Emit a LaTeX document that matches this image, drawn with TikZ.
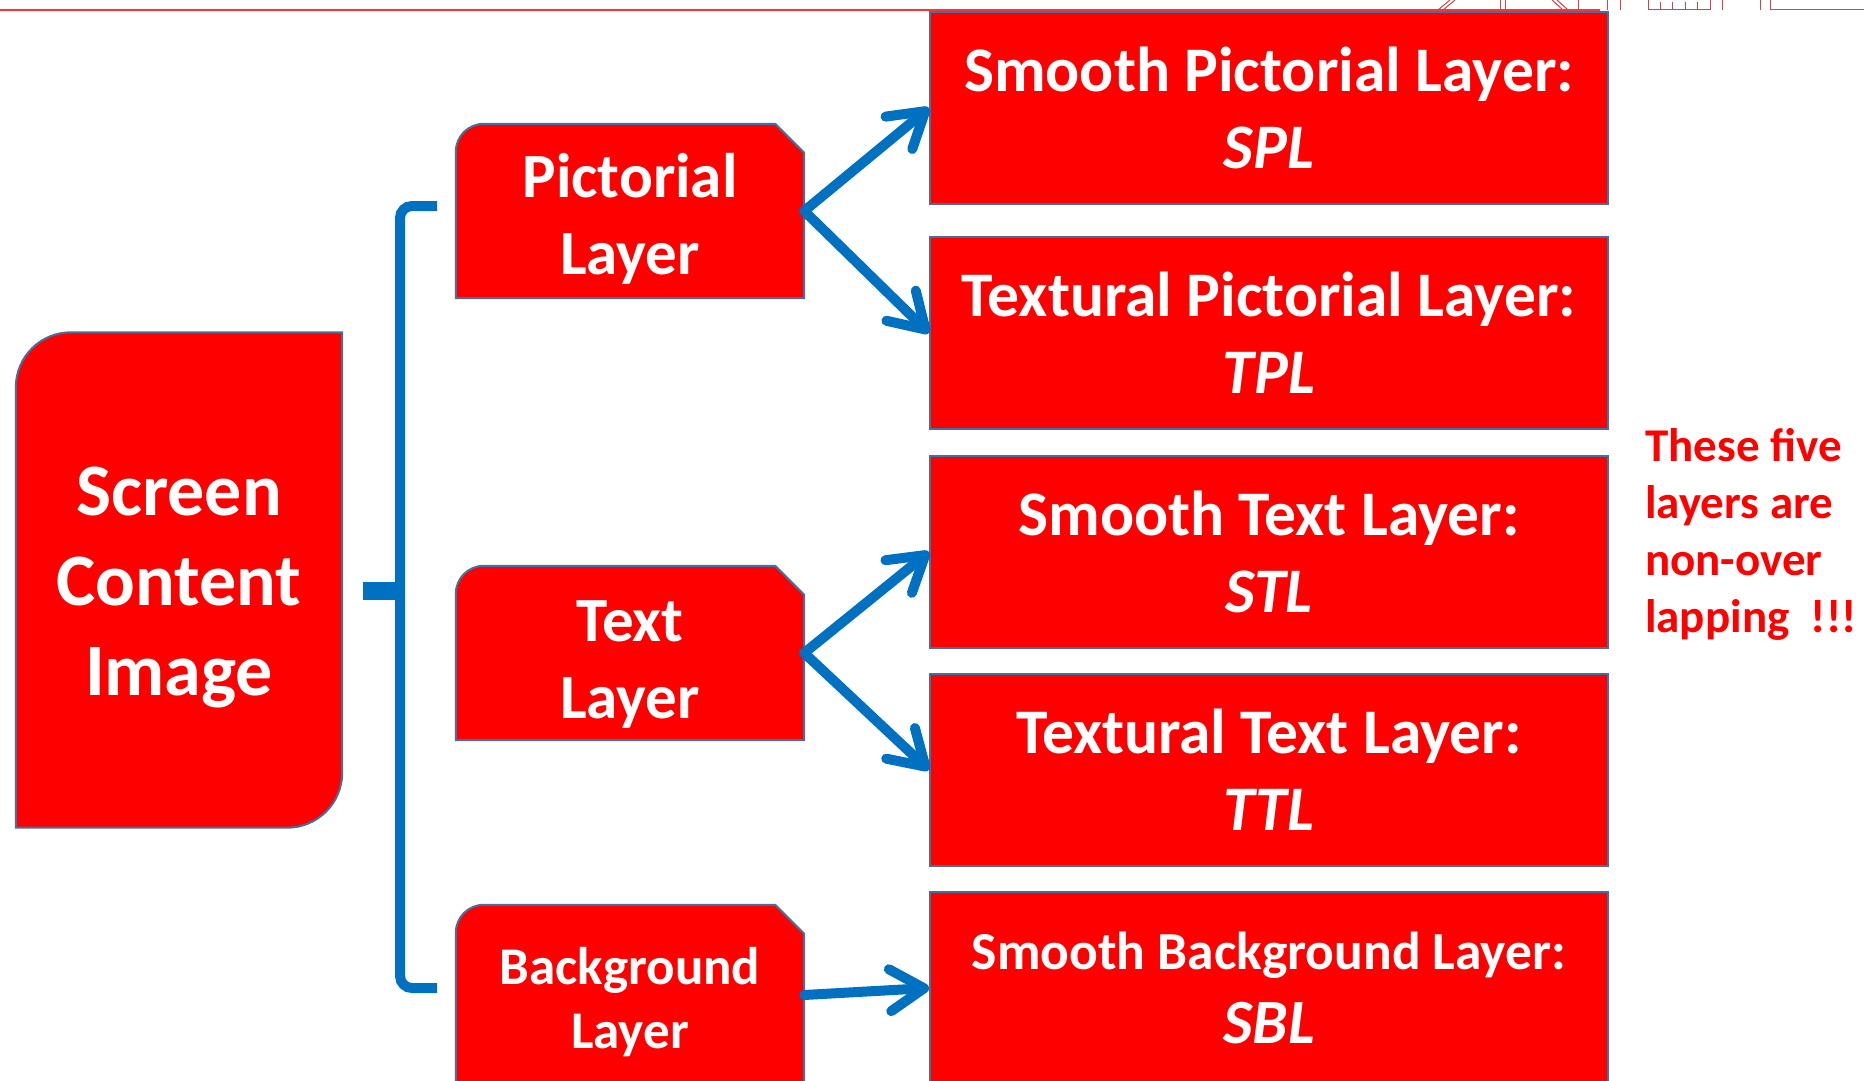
\documentclass[tikz,border=0pt]{standalone}
\usepackage{fontspec}
\setmainfont{Carlito}
\usetikzlibrary{arrows.meta,backgrounds,positioning}

\definecolor{slidered}{HTML}{FF0000}
\definecolor{edgeblue}{HTML}{41719C}
\definecolor{flowblue}{HTML}{0070C0}
\definecolor{logored}{HTML}{D9404A}

\tikzset{
    layer/.style={minimum width=348pt, minimum height=174pt, inner sep=0pt,
        text=white, align=center, font=\bfseries\fontsize{63}{77}\selectfont},
    sublayer/.style={draw=edgeblue, line width=2pt, fill=slidered,
        minimum width=678pt, minimum height=192pt, inner sep=0pt,
        text=white, align=center, font=\bfseries\fontsize{63.5}{77}\selectfont},
    shapeline/.style={draw=edgeblue, line width=2pt, fill=slidered},
    flow/.style={flowblue, line width=10pt, line cap=round,
        -{Straight Barb[length=34pt, width=42pt, round]}},
    brace/.style={flowblue, line width=10pt},
    note/.style={text=slidered, align=left, inner sep=0pt,
        font=\bfseries\fontsize{47}{57}\selectfont},
    logo/.style={logored, line width=1pt}
}

% box with a rounded top left corner and a cut top right corner
\newcommand{\snipbox}[1]{%
    \path[shapeline] (#1.south west) -- ([yshift=-28pt]#1.north west)
        .. controls ([yshift=-12.5pt]#1.north west) and ([xshift=12.5pt]#1.north west) ..
        ([xshift=28pt]#1.north west) -- ([xshift=-29pt]#1.north east)
        -- ([yshift=-29pt]#1.north east) -- (#1.south east) -- cycle;%
}
\newcommand{\toppad}[1]{\rule{0pt}{#1}}

\begin{document}
\begin{tikzpicture}[x=1pt, y=-1pt]
    \useasboundingbox (0,0) rectangle (1864,1081);
    \draw[red!80!white, line width=1.5pt] (0,10) -- (1600,10);
    \draw[logo] (1450,0) -- (1438,10) (1455,0) -- (1443,10);
    \draw[logo] (1552,0) -- (1563,10) (1557,0) -- (1568,10) -- (1578,10);
    \foreach \x in {1500,1505,1578,1607,1620,1722,1760,1770}
        \draw[logo] (\x,0) -- (\x,10);
    \draw[logo] (1648,0) |- (1710,10) -- (1710,0);
    \foreach \x in {1660,1672,1685,1697}
        \draw[logo] (\x,2) -- (\x,10);
    \draw[logo] (1770,10) -- (1864,10);

    \node[layer, minimum width=326pt, minimum height=495pt,
        font=\bfseries\fontsize{74}{90}\selectfont] (scr) at (179,580) {\toppad{64pt}Screen\\Content\\Image};
    \node[layer] (pict) at (630,211) {\toppad{60pt}Pictorial\\Layer};
    \node[layer] (txt) at (630,653) {\toppad{64pt}Text\\Layer};
    \node[layer, minimum height=180pt,
        font=\bfseries\fontsize{53}{64}\selectfont] (bgl) at (630,995) {\toppad{51pt}Background\\Layer};

    \begin{scope}[on background layer]
        \path[shapeline] (scr.south west) -- ([yshift=-55pt]scr.north west)
            .. controls ([yshift=-24.6pt]scr.north west) and ([xshift=24.6pt]scr.north west) ..
            ([xshift=55pt]scr.north west) -- (scr.north east) -- ([yshift=55pt]scr.south east)
            .. controls ([yshift=24.6pt]scr.south east) and ([xshift=-24.6pt]scr.south east) ..
            ([xshift=-55pt]scr.south east) -- cycle;
        \snipbox{pict}
        \snipbox{txt}
        \snipbox{bgl}
    \end{scope}

    \foreach \name/\ypos/\kind/\abbr in {spl/108/Smooth Pictorial/SPL, tpl/333/Textural Pictorial/TPL,
            stl/552/Smooth Text/STL, ttl/770/Textural Text/TTL}
        \node[sublayer] (\name) at (1269,\ypos) {\kind\ Layer:\\\textit{\abbr}};
    \node[sublayer, font=\bfseries\fontsize{53.5}{74}\selectfont] (sbl) at (1269,988)
        {Smooth Background Layer:\\{\fontsize{63}{74}\selectfont\textit{SBL}}};

    \coordinate (bracetop) at (437,206);
    \coordinate (bracetip) at (363,591);
    \coordinate (bracebot) at (437,988);
    \draw[brace, rounded corners=12pt] (bracetop) -- (400,206) -- (400,988) -- (bracebot);
    \draw[brace, line width=18pt] (bracetip) -- (401,591);

    \draw[flow] (pict.east) -- (spl.west);
    \draw[flow] (pict.east) -- (tpl.west);
    \draw[flow] (txt.east) -- (stl.west);
    \draw[flow] (txt.east) -- (ttl.west);
    \draw[flow] (bgl.east) -- (sbl.west);

    \node[note, anchor=west] (note) at (1645,534) {These five\\layers are\\non-over\\lapping\ \ !!!};
\end{tikzpicture}
\end{document}
